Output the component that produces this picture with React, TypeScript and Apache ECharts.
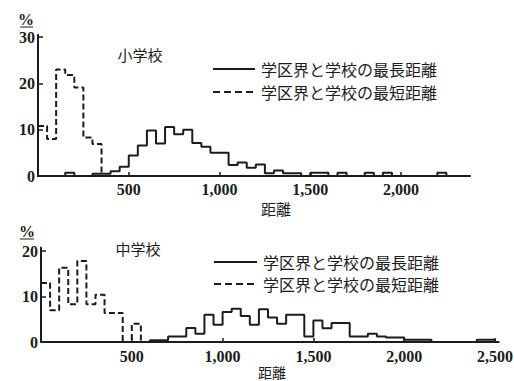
import React, { useEffect, useRef } from "react";
import * as echarts from "echarts";

// ---- data (percent per 50 m bin) ----
const BIN = 50;
const topShortStart = 0;
const topShortPct = [10.8, 8.0, 23.0, 21.8, 19.1, 8.3, 6.9];
const topLongStart = 150;
const topLongPct = [
  0.7, 0, 0, 0.5, 0.5, 1.0, 2.0, 4.4, 6.6, 9.8, 7.0, 10.6, 9.0, 10.0, 7.1, 6.3,
  5.0, 5.0, 2.4, 2.9, 1.8, 2.5, 0.6, 1.2, 0.6, 0.6, 0, 0.7, 0.7, 0, 0.7, 0, 0,
  0.7, 0, 0.7, 0, 0, 0, 0, 0, 0.7,
];
const botShortStart = 0;
const botShortPct = [13.0, 7.0, 16.3, 8.3, 17.8, 8.3, 10.4, 6.4, 6.4, 0, 4.0];
const botLongStart = 600;
const botLongPct = [
  0.4, 0.4, 1.2, 1.2, 3.1, 1.8, 6.0, 3.8, 6.6, 7.3, 5.7, 3.8, 7.2, 5.4, 4.0, 6.0,
  6.0, 1.2, 4.7, 3.0, 4.2, 4.2, 1.2, 1.2, 1.8, 1.2, 1.0, 1.0, 0.5, 0.5, 0.5, 0,
  0, 0, 0, 0, 0.5, 0.5,
];
const topXTicks = [500, 1000, 1500, 2000];
const botXTicks = [500, 1000, 1500, 2000, 2500];
const topYTicks = [0, 10, 20, 30];
const botYTicks = [0, 10, 20];
const titleTop = "小学校";
const titleBot = "中学校";
const legendLong = "学区界と学校の最長距離";
const legendShort = "学区界と学校の最短距離";
const xName = "距離";
const yUnit = "%";

const ink = "#1c1c1c";
const serif = '"Liberation Serif", "DejaVu Serif", serif';
const cjk = '"Noto Sans CJK JP", sans-serif';

function stepPoints(start: number, vals: number[]) {
  const pts: number[][] = [];
  if (start > 0) pts.push([start, 0]);
  vals.forEach((v, i) => pts.push([start + i * BIN, v]));
  const end = start + vals.length * BIN;
  pts.push([end, vals[vals.length - 1]]);
  pts.push([end, 0]);
  return pts;
}

const fmt = (v: number) => String(v).replace(/\B(?=(\d{3})+(?!\d))/g, ",");

function xAxis(gridIndex: number, max: number, ticks: number[], margin: number) {
  return {
    gridIndex,
    type: "value",
    min: 0,
    max,
    axisLine: { show: true, lineStyle: { color: ink, width: 2 } },
    axisTick: { show: true, inside: true, length: 4, customValues: ticks, lineStyle: { color: ink, width: 1.5 } },
    axisLabel: {
      show: true,
      customValues: ticks,
      formatter: (v: number) => fmt(v),
      fontFamily: serif,
      fontWeight: "bold",
      fontSize: 16,
      color: ink,
      margin,
    },
    splitLine: { show: false },
  };
}

function yAxis(gridIndex: number, max: number, ticks: number[]) {
  return {
    gridIndex,
    type: "value",
    min: 0,
    max,
    axisLine: { show: true, lineStyle: { color: ink, width: 2 } },
    axisTick: { show: true, inside: true, length: 5, customValues: ticks, lineStyle: { color: ink, width: 1.5 } },
    axisLabel: {
      show: true,
      customValues: ticks,
      fontFamily: serif,
      fontWeight: "bold",
      fontSize: 16,
      color: ink,
      margin: 3,
    },
    splitLine: { show: false },
  };
}

function series(xi: number, data: number[][], dashed: boolean) {
  return {
    type: "line",
    xAxisIndex: xi,
    yAxisIndex: xi,
    data,
    step: "end",
    showSymbol: false,
    symbol: "none",
    clip: false,
    silent: true,
    lineStyle: { color: ink, width: 2, type: dashed ? [6, 3] : "solid" },
  };
}

function txt(text: string, x: number, y: number, size: number, family: string, align = "center", weight = "normal") {
  return {
    type: "text",
    x,
    y,
    silent: true,
    style: {
      text,
      fill: ink,
      fontSize: size,
      fontFamily: family,
      fontWeight: weight,
      align,
      verticalAlign: "middle",
      textAlign: align,
      textVerticalAlign: "middle",
    },
  };
}

function ln(x1: number, y1: number, x2: number, y2: number, dash?: number[], w = 2) {
  return {
    type: "line",
    silent: true,
    shape: { x1, y1, x2, y2 },
    style: { stroke: ink, lineWidth: w, lineDash: dash },
  };
}

export default function App() {
  const ref = useRef<HTMLDivElement>(null);
  useEffect(() => {
    if (!ref.current) return;
    const chart = echarts.init(ref.current, undefined, { renderer: "svg" });
    chart.setOption({
      animation: false,
      backgroundColor: "#ffffff",
      grid: [
        { left: 38, top: 34.7, width: 432, height: 141.3, containLabel: false, outerBoundsMode: "none" },
        { left: 41, top: 247.4, width: 457.6, height: 94.6, containLabel: false, outerBoundsMode: "none" },
      ],
      xAxis: [xAxis(0, 2380, topXTicks, 5), xAxis(1, 2520, botXTicks, 6)],
      yAxis: [yAxis(0, 30.5, topYTicks), yAxis(1, 20.8, botYTicks)],
      series: [
        series(0, stepPoints(topLongStart, topLongPct), false),
        series(0, stepPoints(topShortStart, topShortPct), true),
        series(1, stepPoints(botLongStart, botLongPct), false),
        series(1, stepPoints(botShortStart, botShortPct), true),
      ],
      graphic: {
        elements: [
          txt(yUnit, 26, 19, 16, serif, "center", "bold"),
          ln(20, 27, 33, 27, undefined, 1),
          txt(yUnit, 27, 231, 16, serif, "center", "bold"),
          ln(20, 239, 34, 239, undefined, 1),
          txt(titleTop, 140, 54, 15, cjk),
          txt(titleBot, 138, 248, 15, cjk),
          ln(213, 69, 255, 69),
          txt(legendLong, 261, 69, 16, cjk, "left"),
          ln(213, 92, 255, 92, [7, 4]),
          txt(legendShort, 261, 92, 16, cjk, "left"),
          ln(214, 262, 257, 262),
          txt(legendLong, 263, 262, 16, cjk, "left"),
          ln(214, 284, 257, 284, [7, 4]),
          txt(legendShort, 263, 284, 16, cjk, "left"),
          txt(xName, 276, 208, 15, cjk),
          txt(xName, 272, 372, 14, cjk),
        ],
      },
    });
    return () => chart.dispose();
  }, []);
  return (
    <div
      ref={ref}
      style={{ position: "absolute", left: 0, top: 0, width: 514, height: 381, background: "#fff" }}
    />
  );
}
